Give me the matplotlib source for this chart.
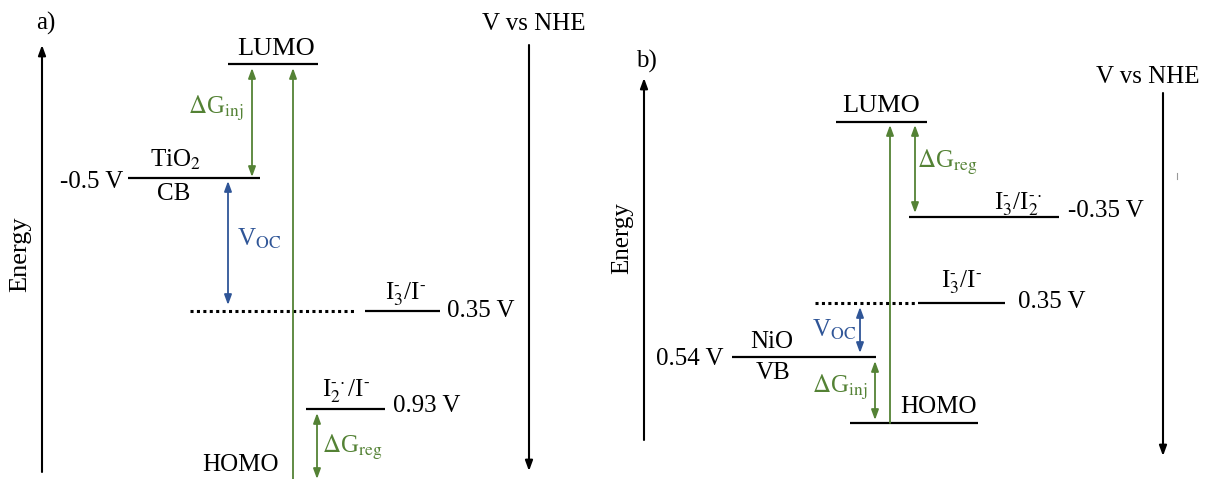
import matplotlib.pyplot as plt

plt.rcParams['font.family'] = ['Liberation Serif', 'DejaVu Serif']
plt.rcParams['mathtext.fontset'] = 'stix'

GREEN = '#548235'
BLUE = '#2F5597'
FS = 18

# energy levels: (x start, x end, y) in diagram units (y grows downwards)
level_x0_a = [228, 128, 365, 306]
level_x1_a = [318, 260, 440, 385]
level_y_a = [64, 178, 311, 409]
level_x0_b = [836, 909, 918, 732, 850]
level_x1_b = [927, 1059, 1005, 876, 978]
level_y_b = [122, 217, 303, 357, 423]

# fermi level (dotted)
fermi_a = (190, 355, 311)
fermi_b = (815, 915, 303)

HY = r'\text{-}'
I3_I = r'I$_3^{%s}$/I$^{%s}$' % (HY, HY)
I2_I = r'I$_2^{%s\cdot}$/I$^{%s}$' % (HY, HY)
I3_I2 = r'I$_3^{%s}$/I$_2^{%s\cdot}$' % (HY, HY)

# text labels: (x, y baseline, text, ha, colour, size)
labels = [
    (36, 30, 'a)', 'left', 'k', FS),
    (534, 30, 'V vs NHE', 'center', 'k', FS),
    (276, 55, 'LUMO', 'center', 'k', 19),
    (188, 114, r'$\Delta$G$_{\rm inj}$', 'left', GREEN, FS),
    (175, 167, r'TiO$_2$', 'center', 'k', FS),
    (60, 188, '-0.5 V', 'left', 'k', FS),
    (174, 200, 'CB', 'center', 'k', FS),
    (237, 246, r'V$_{\rm OC}$', 'left', BLUE, FS),
    (406, 299, I3_I, 'center', 'k', FS),
    (447, 317, '0.35 V', 'left', 'k', FS),
    (346, 396, I2_I, 'center', 'k', FS),
    (393, 412, '0.93 V', 'left', 'k', FS),
    (322, 453, r'$\Delta$G$_{\rm reg}$', 'left', GREEN, FS),
    (202, 471, 'HOMO', 'left', 'k', FS),
    (636, 68, 'b)', 'left', 'k', FS),
    (1148, 83, 'V vs NHE', 'center', 'k', FS),
    (881, 112, 'LUMO', 'center', 'k', 19),
    (917, 168, r'$\Delta$G$_{\rm reg}$', 'left', GREEN, FS),
    (1018, 209, I3_I2, 'center', 'k', FS),
    (1068, 217, '-0.35 V', 'left', 'k', FS),
    (962, 287, I3_I, 'center', 'k', FS),
    (1018, 308, '0.35 V', 'left', 'k', FS),
    (812, 337, r'V$_{\rm OC}$', 'left', BLUE, FS),
    (772, 348, 'NiO', 'center', 'k', FS),
    (656, 365, '0.54 V', 'left', 'k', FS),
    (773, 379, 'VB', 'center', 'k', FS),
    (812, 393, r'$\Delta$G$_{\rm inj}$', 'left', GREEN, FS),
    (900, 413, 'HOMO', 'left', 'k', FS),
]

# arrows: (x, y from, y to, style, colour)
arrows = [
    (42, 472, 45, '-|>', 'k'),
    (529, 45, 471, '-|>', 'k'),
    (252, 177, 68, '<|-|>', GREEN),
    (293, 479, 68, '-|>', GREEN),
    (228, 305, 181, '<|-|>', BLUE),
    (317, 479, 413, '<|-|>', GREEN),
    (644, 440, 78, '-|>', 'k'),
    (1163, 93, 456, '-|>', 'k'),
    (890, 423, 125, '-|>', GREEN),
    (915, 213, 125, '<|-|>', GREEN),
    (860, 353, 307, '<|-|>', BLUE),
    (875, 420, 361, '<|-|>', GREEN),
]

fig = plt.figure(figsize=(12.11, 4.79), dpi=100)
ax = fig.add_axes([0, 0, 1, 1])
ax.set_xlim(0, 1211)
ax.set_ylim(479, 0)
ax.axis('off')

for x0, x1, y in zip(level_x0_a + level_x0_b, level_x1_a + level_x1_b,
                     level_y_a + level_y_b):
    ax.plot([x0, x1], [y, y], color='k', lw=1.6, solid_capstyle='butt')

for x0, x1, y in (fermi_a, fermi_b):
    ax.plot([x0, x1], [y, y], color='k', lw=2.2, ls=(0, (1, 1.1)))

for x, y0, y1, style, c in arrows:
    lw = 1.5 if c == 'k' else 1.3
    ax.annotate('', xy=(x, y1), xytext=(x, y0),
                arrowprops=dict(arrowstyle=style + ',head_length=0.6,head_width=0.22',
                                color=c, lw=lw, shrinkA=0, shrinkB=0))

for x, y, s, ha, c, fs in labels:
    ax.text(x, y, s, ha=ha, va='baseline', color=c, fontsize=fs)

ax.text(20, 254, 'Energy', rotation=90, ha='center', va='center', fontsize=19)
ax.text(622, 238, 'Energy', rotation=90, ha='center', va='center', fontsize=FS)

# small stray mark in panel b
ax.plot([1177, 1177], [173, 179], color='#999999', lw=0.8)

fig.savefig('out.png', dpi=100)
